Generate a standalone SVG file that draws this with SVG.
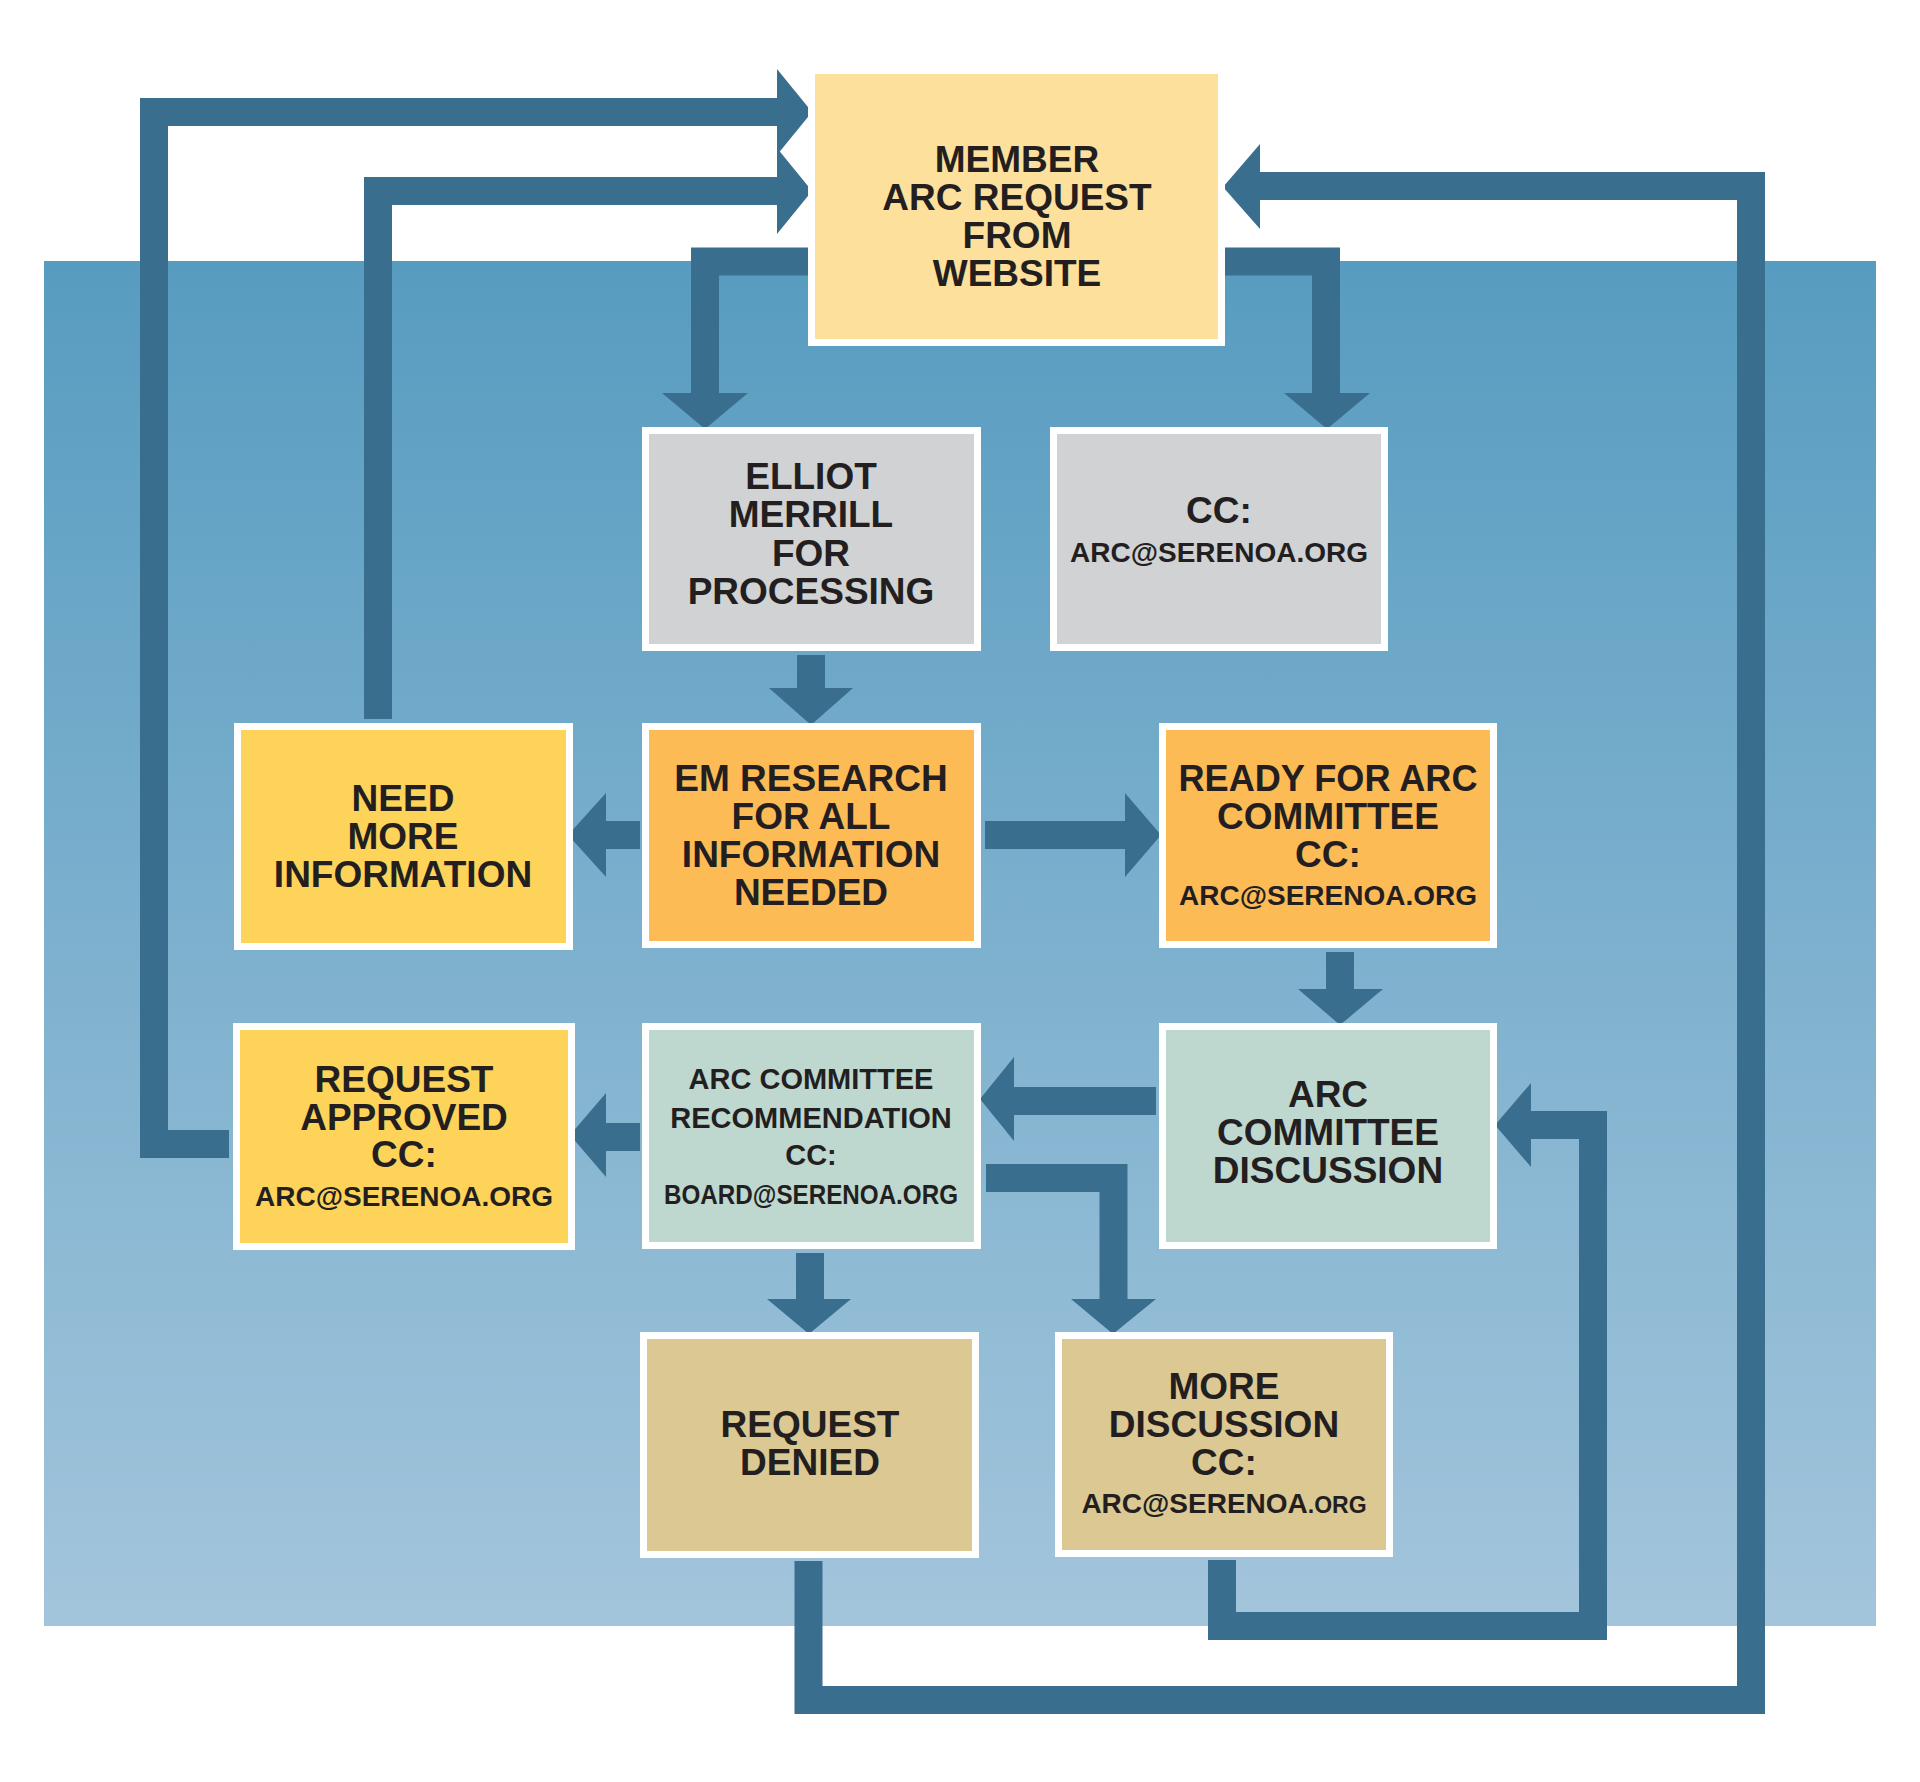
<svg xmlns="http://www.w3.org/2000/svg" width="1920" height="1782" viewBox="0 0 1920 1782">
<defs>
<linearGradient id="bg" x1="0" y1="0" x2="0" y2="1">
<stop offset="0" stop-color="#579cc0"/>
<stop offset="1" stop-color="#a3c5dc"/>
</linearGradient>
<style>
.bar{fill:none;stroke:#3a6e8f;stroke-width:28;stroke-linejoin:miter;stroke-linecap:butt}
.head{fill:#3a6e8f}
.box{stroke:#ffffff;stroke-width:7}
.t{font-family:"Liberation Sans",Arial,sans-serif;font-weight:bold;fill:#231f20;text-anchor:middle}
.big{font-size:37px}
.mid{font-size:29px}
.sm{font-size:28px}
.member{fill:#fde09c}
.gray{fill:#d1d2d4}
.orange{fill:#fdbb56}
.yellow{fill:#fed35a}
.green{fill:#bed7cf}
.tan{fill:#dbc892}
</style>
</defs>
<rect x="0" y="0" width="1920" height="1782" fill="#ffffff"/>
<rect x="44" y="261" width="1832" height="1365" fill="url(#bg)"/>

<g id="connectors">
<path class="bar" d="M229 1144 H154 V112 H778"/>
<polygon class="head" points="777,69 812,112 777,155"/>
<path class="bar" d="M378 719 V191 H778"/>
<polygon class="head" points="777,148 812,191 777,234"/>
<path class="bar" d="M808 261.5 H705 V394"/>
<polygon class="head" points="662,393 748,393 705,429"/>
<path class="bar" d="M1225 261.5 H1326 V394"/>
<polygon class="head" points="1284,393 1370,393 1327,429"/>
<path class="bar" d="M808.5 1561 V1700 H1751 V186 H1259"/>
<polygon class="head" points="1260,144 1223,187 1260,229"/>
<path class="bar" d="M1222 1560 V1626 H1593 V1125 H1531"/>
<polygon class="head" points="1531,1083 1495,1125 1531,1167"/>
<path class="bar" d="M811 655 V689"/>
<polygon class="head" points="769,688 853,688 811,725"/>
<path class="bar" d="M985 835 H1126"/>
<polygon class="head" points="1125,793 1161,835 1125,877"/>
<path class="bar" d="M640 835 H605"/>
<polygon class="head" points="606,793 568,835 606,877"/>
<path class="bar" d="M1340 952 V990"/>
<polygon class="head" points="1298,989 1383,989 1340,1025"/>
<path class="bar" d="M1156 1101 H1013"/>
<polygon class="head" points="1014,1057 980,1099 1014,1141"/>
<path class="bar" d="M640 1137 H605"/>
<polygon class="head" points="606,1093 570,1135 606,1177"/>
<path class="bar" d="M810 1253 V1300"/>
<polygon class="head" points="767,1299 851,1299 809,1334"/>
<path class="bar" d="M986 1178 H1113.5 V1300"/>
<polygon class="head" points="1071,1299 1156,1299 1113,1334"/>
</g>

<g id="member">
<rect class="box member" x="811.5" y="70.5" width="410" height="272"/>
<text class="t big" x="1017" y="172">MEMBER</text>
<text class="t big" x="1017" y="210">ARC REQUEST</text>
<text class="t big" x="1017" y="248">FROM</text>
<text class="t big" x="1017" y="286">WEBSITE</text>
</g>

<g id="elliot">
<rect class="box gray" x="645.5" y="430.5" width="332" height="217"/>
<text class="t big" x="811" y="489">ELLIOT</text>
<text class="t big" x="811" y="527">MERRILL</text>
<text class="t big" x="811" y="566">FOR</text>
<text class="t big" x="811" y="604">PROCESSING</text>
</g>

<g id="cc">
<rect class="box gray" x="1053.5" y="430.5" width="331" height="217"/>
<text class="t big" x="1219" y="523">CC:</text>
<text class="t sm" x="1219" y="562">ARC@SERENOA.ORG</text>
</g>

<g id="research">
<rect class="box orange" x="645.5" y="726.5" width="332" height="218"/>
<text class="t big" x="811" y="791">EM RESEARCH</text>
<text class="t big" x="811" y="829">FOR ALL</text>
<text class="t big" x="811" y="867">INFORMATION</text>
<text class="t big" x="811" y="905">NEEDED</text>
</g>

<g id="ready">
<rect class="box orange" x="1162.5" y="726.5" width="331" height="218"/>
<text class="t big" x="1328" y="791" textLength="299" lengthAdjust="spacingAndGlyphs">READY FOR ARC</text>
<text class="t big" x="1328" y="829">COMMITTEE</text>
<text class="t big" x="1328" y="867">CC:</text>
<text class="t sm" x="1328" y="905">ARC@SERENOA.ORG</text>
</g>

<g id="needmore">
<rect class="box yellow" x="237.5" y="726.5" width="332" height="220"/>
<text class="t big" x="403" y="811">NEED</text>
<text class="t big" x="403" y="849">MORE</text>
<text class="t big" x="403" y="887">INFORMATION</text>
</g>

<g id="approved">
<rect class="box yellow" x="236.5" y="1026.5" width="335" height="220"/>
<text class="t big" x="404" y="1092">REQUEST</text>
<text class="t big" x="404" y="1130">APPROVED</text>
<text class="t big" x="404" y="1167">CC:</text>
<text class="t sm" x="404" y="1206">ARC@SERENOA.ORG</text>
</g>

<g id="recommendation">
<rect class="box green" x="645.5" y="1026.5" width="332" height="219"/>
<text class="t mid" x="811" y="1089">ARC COMMITTEE</text>
<text class="t mid" x="811" y="1128">RECOMMENDATION</text>
<text class="t mid" x="811" y="1165">CC:</text>
<text class="t sm" x="811" y="1204" textLength="294" lengthAdjust="spacingAndGlyphs">BOARD@SERENOA.ORG</text>
</g>

<g id="discussion">
<rect class="box green" x="1162.5" y="1026.5" width="331" height="219"/>
<text class="t big" x="1328" y="1107">ARC</text>
<text class="t big" x="1328" y="1145">COMMITTEE</text>
<text class="t big" x="1328" y="1183">DISCUSSION</text>
</g>

<g id="denied">
<rect class="box tan" x="643.5" y="1335.5" width="332" height="219"/>
<text class="t big" x="810" y="1437">REQUEST</text>
<text class="t big" x="810" y="1475">DENIED</text>
</g>

<g id="morediscussion">
<rect class="box tan" x="1058.5" y="1335.5" width="331" height="218"/>
<text class="t big" x="1224" y="1399">MORE</text>
<text class="t big" x="1224" y="1437">DISCUSSION</text>
<text class="t big" x="1224" y="1475">CC:</text>
<text class="t sm" x="1224" y="1513">ARC@SERENOA<tspan font-size="23px">.ORG</tspan></text>
</g>
</svg>
